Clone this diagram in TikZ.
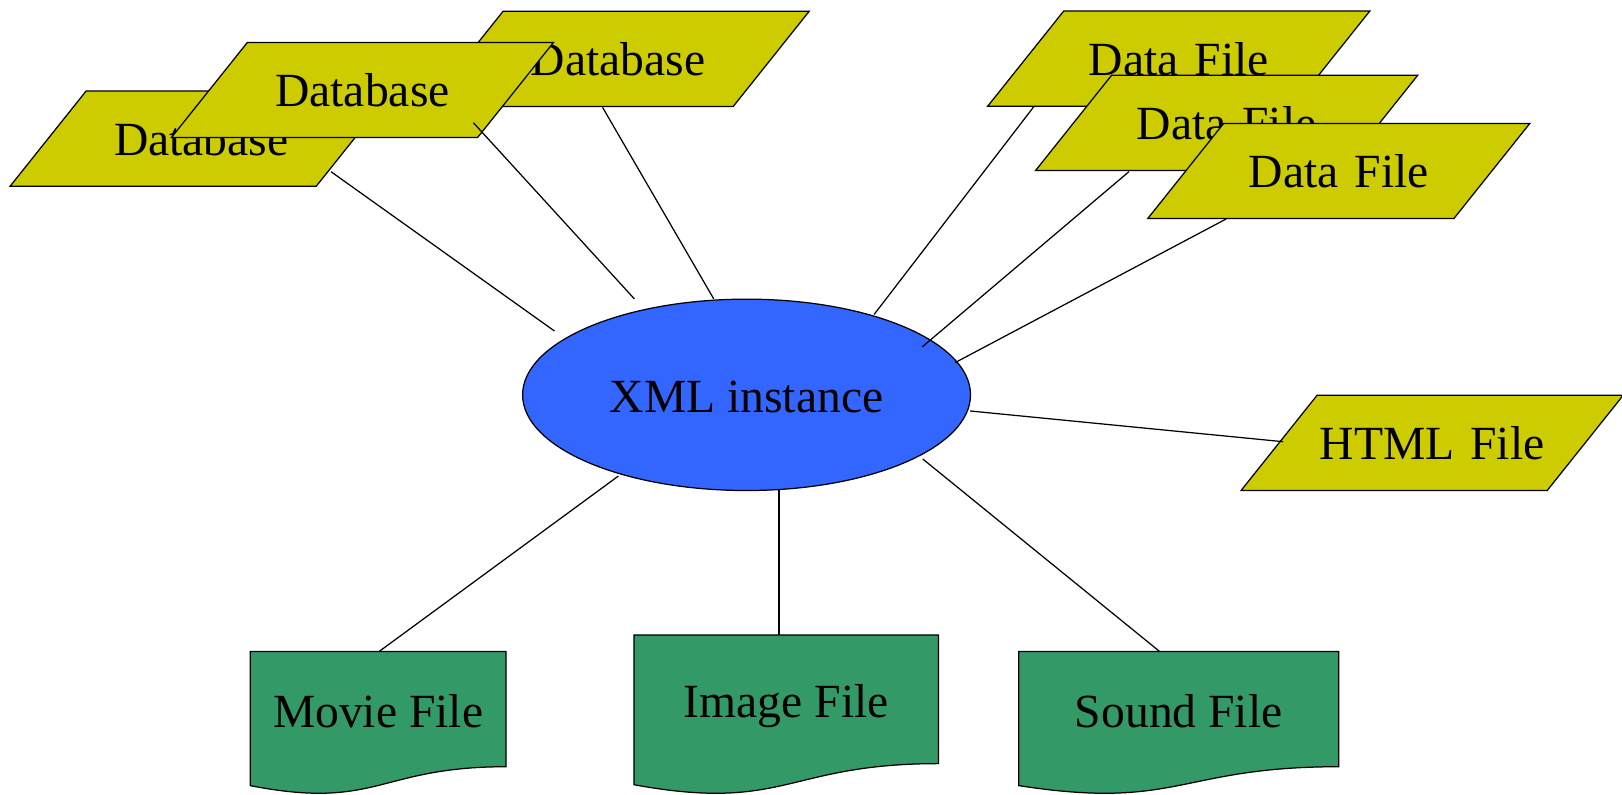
\documentclass[tikz,border=0pt]{standalone}
\usepackage{fontspec}
\setmainfont{Liberation Serif}
\usetikzlibrary{shapes.geometric,backgrounds}

\definecolor{srcolive}{HTML}{CCCC00}
\definecolor{hubblue}{HTML}{3366FF}
\definecolor{mediagreen}{HTML}{339966}

\newcommand\bigfont{\fontsize{46}{52}\selectfont}

\tikzset{
  source/.style={shape=trapezium, trapezium left angle=51.4, trapezium right angle=128.6,
    fill=srcolive, draw=black, line width=1.2pt, inner sep=0pt,
    text width=222.5pt, align=center, text height=62pt, text depth=30pt, font=\bigfont},
  hub/.style={shape=ellipse, fill=hubblue, draw=black, line width=1.2pt, inner sep=0pt,
    minimum width=433pt, minimum height=185pt, text height=40pt, text depth=6pt, font=\bigfont},
  media/.style={shape=rectangle, inner sep=0pt, text height=45pt, text depth=10pt, font=\bigfont},
  mediaoutline/.style={fill=mediagreen, draw=black, line width=1.2pt},
  link/.style={draw=black, line width=1.2pt}
}

% document symbol: flat top, wavy bottom edge below the node box
% #1 node name, #2 height of the node box
\newcommand\mediashape[2]{%
  \filldraw[mediaoutline] (#1.north west) -- (#1.north east) -- (#1.south east)
    .. controls (#1.south) and ([yshift={-0.381*#2}]#1.south)
    .. ([yshift={-0.1646*#2}]#1.south west) -- cycle;}

\begin{document}
\begin{tikzpicture}[x=1pt, y=1pt]
\useasboundingbox (0,0) rectangle (1568,768);

% database sources, back to front
\node[source] (db3) at (597.5,711) {Database};
\node[source] (db1) at (194.5,634) {Database};
\node[source] (db2) at (350.4,681) {Database};

% data file sources, back to front
\node[source] (df1) at (1139.5,711.3) {Data File};
\node[source] (df2) at (1185.8,649.2) {Data File};
\node[source] (df3) at (1294.2,602.7) {Data File};

\node[source] (html) at (1384.4,339.8) {HTML File};

% central instance
\node[hub] (xml) at (721.7,386.3) {XML instance};

% media documents
\node[media, minimum width=247pt, minimum height=111pt] (movie) at (365.5,82.5) {Movie File};
\node[media, minimum width=294pt, minimum height=124pt] (image) at (760,92) {Image File};
\node[media, minimum width=309pt, minimum height=111pt] (sound) at (1139.5,82.5) {Sound File};

\begin{scope}[on background layer]
  \mediashape{movie}{111}
  \mediashape{image}{124}
  \mediashape{sound}{111}
\end{scope}

% links
\draw[link] ([shift={(125.5,-32)}]db1.center) -- ([shift={(-185.7,61.7)}]xml.center);
\draw[link] ([shift={(107.2,-31.6)}]db2.center) -- ([shift={(-108.4,92.7)}]xml.center);
\draw[link] ([shift={(-15,-46.8)}]db3.center) -- ([shift={(-31.7,92.7)}]xml.center);
\draw[link] ([shift={(-140,-46.3)}]df1.center) -- ([shift={(123.3,77.7)}]xml.center);
\draw[link] ([shift={(-94.5,-47.2)}]df2.center) -- ([shift={(170,46.5)}]xml.center);
\draw[link] ([shift={(-108.9,-46.4)}]df3.center) -- ([shift={(201.5,31.1)}]xml.center);
\draw[link] ([shift={(216.1,-15.6)}]xml.center) -- ([shift={(-144,1.2)}]html.center);
\draw[link] ([shift={(-123.9,-78.5)}]xml.center) -- ([xshift=1]movie.north);
\draw[link] ([shift={(31.3,-91.8)}]xml.center) -- ([xshift=-7]image.north);
\draw[link] ([shift={(170.3,-62)}]xml.center) -- ([xshift=-18.5]sound.north);
\end{tikzpicture}
\end{document}
